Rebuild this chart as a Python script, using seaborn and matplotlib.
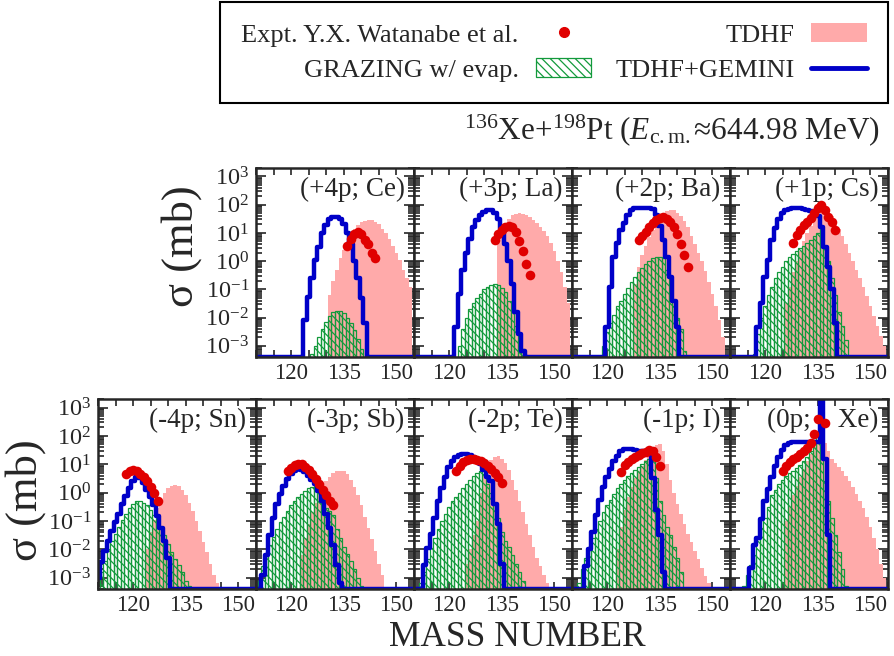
import numpy as np
import matplotlib
matplotlib.use("Agg")
import matplotlib.pyplot as plt
from matplotlib.lines import Line2D
from matplotlib.patches import Patch
from matplotlib.ticker import FixedLocator, LogLocator, NullFormatter
import seaborn as sns

# panels: top row (proton pick-up), bottom row (proton stripping)
top_keys = ["Ce", "La", "Ba", "Cs"]
bot_keys = ["Sn", "Sb", "Te", "I", "Xe"]
panel_text = {"Ce": "(+4p; Ce)", "La": "(+3p; La)", "Ba": "(+2p; Ba)", "Cs": "(+1p; Cs)",
              "Sn": "(-4p; Sn)", "Sb": "(-3p; Sb)", "Te": "(-2p; Te)", "I": "(-1p; I)",
              "Xe": "(0p;    Xe)"}

# all values: log10(sigma / mb); tuple = (first mass number, values)
tdhf = {
    "Ce": (131, [-1.2, -0.7, -0.3, 0.1, 0.4, 0.7, 0.95, 1.15, 1.28, 1.37, 1.42, 1.45, 1.45, 1.4,
                 1.3, 1.15, 1.0, 0.8, 0.55, 0.3, 0.05, -0.3, -0.6, -0.9]),
    "La": (134, [0.75, 1.05, 1.3, 1.5, 1.62, 1.68, 1.7, 1.68, 1.62, 1.55, 1.45, 1.35, 1.22, 1.08,
                 0.9, 0.65, 0.35, 0.0, -0.4, -0.9, -1.5]),
    "Ba": (128, [-0.8, -0.2, 0.2, 0.55, 0.85, 1.1, 1.3, 1.5, 1.65, 1.78, 1.82, 1.8, 1.72, 1.6,
                 1.42, 1.2, 0.9, 0.6, 0.3, 0.0, -0.35, -0.75, -1.15, -1.6, -2.1, -2.7]),
    "Cs": (126, [-1.5, -0.9, -0.4, 0.0, 0.35, 0.7, 1.0, 1.25, 1.45, 1.62, 1.75, 1.8, 1.75, 1.6,
                 1.4, 1.15, 0.9, 0.6, 0.3, 0.0, -0.3, -0.6, -0.9, -1.25, -1.6, -1.95, -2.3, -2.65, -3.0]),
    "Sn": (124, [-2.0, -1.4, -0.95, -0.55, -0.25, 0.0, 0.15, 0.25, 0.28, 0.25, 0.1, -0.1, -0.35,
                 -0.65, -1.0, -1.35, -1.75, -2.1, -2.5, -2.9, -3.2]),
    "Sb": (123, [-2.2, -1.6, -1.1, -0.7, -0.35, -0.05, 0.2, 0.4, 0.55, 0.68, 0.75, 0.78, 0.75, 0.65,
                 0.45, 0.2, -0.1, -0.45, -0.85, -1.25, -1.65, -2.05, -2.5, -2.9]),
    "Te": (125, [-2.5, -2.0, -1.5, -1.0, 0.0, 0.6, 0.95, 1.15, 1.25, 1.28, 1.2, 1.05, 0.8, 0.45,
                 0.1, -0.3, -0.7, -1.1, -1.5, -1.9, -2.3, -2.6, -2.9, -3.2]),
    "I":  (123, [-2.0, -1.2, -0.6, -0.15, 0.2, 0.5, 0.75, 0.95, 1.15, 1.35, 1.55, 1.68, 1.72, 1.45,
                 1.0, 0.45, 0.0, -0.4, -0.75, -1.1, -1.45, -1.75, -2.05, -2.35, -2.65, -2.95, -3.2]),
    "Xe": (126, [-1.0, -0.5, -0.1, 0.25, 0.55, 0.85, 1.1, 1.35, 1.6, 1.85, 2.0, 1.75, 1.45, 1.2,
                 1.05, 0.9, 0.78, 0.6, 0.42, 0.2, -0.05, -0.3, -0.55, -0.85, -1.2, -1.6, -2.0, -2.5, -3.0]),
}

grazing = {
    "Ce": (126, [-3.3, -3.0, -2.7, -2.4, -2.15, -1.95, -1.8, -1.75, -1.75, -1.85, -2.0, -2.2, -2.45,
                 -2.75, -3.1]),
    "La": (123, [-3.0, -2.4, -2.0, -1.7, -1.5, -1.3, -1.15, -1.0, -0.9, -0.85, -0.8, -0.85, -0.95,
                 -1.1, -1.4, -1.8, -2.3, -2.8, -3.1]),
    "Ba": (119, [-3.0, -2.5, -2.2, -1.9, -1.6, -1.4, -1.15, -0.95, -0.75, -0.55, -0.4, -0.25, -0.1,
                 0.0, 0.1, 0.15, 0.15, 0.1, -0.3, -1.1, -1.6, -2.0, -2.4, -3.2]),
    "Cs": (117, [-3.3, -2.6, -2.0, -1.6, -1.2, -0.9, -0.6, -0.4, -0.2, 0.0, 0.15, 0.25, 0.35, 0.45,
                 0.55, 0.65, 0.75, 0.9, 1.0, 1.25, 0.5, 0.0, -0.6, -1.2, -1.8, -2.3, -2.8]),
    "Sn": (110, [-3.2, -2.8, -2.4, -2.0, -1.7, -1.45, -1.2, -0.95, -0.75, -0.55, -0.4, -0.3, -0.3,
                 -0.35, -0.45, -0.6, -0.8, -1.0, -1.25, -1.5, -1.8, -2.1, -2.35, -2.55, -2.8, -3.1, -3.3]),
    "Sb": (111, [-3.1, -2.6, -2.2, -1.85, -1.55, -1.3, -1.05, -0.85, -0.65, -0.45, -0.3, -0.15, -0.05,
                 0.05, 0.15, 0.2, 0.24, 0.1, -0.2, -0.55, -0.65, -0.8, -1.3, -1.6, -1.9, -2.15, -2.4,
                 -2.7, -3.0, -3.3]),
    "Te": (112, [-3.2, -2.8, -2.35, -1.95, -1.6, -1.3, -1.0, -0.75, -0.5, -0.3, -0.15, 0.0, 0.15, 0.3,
                 0.45, 0.6, 0.7, 0.75, 0.65, 0.3, 0.0, -0.4, -0.9, -1.4, -1.7, -1.9, -2.2, -2.5, -2.8, -3.1]),
    "I":  (112, [-3.2, -2.7, -2.3, -1.9, -1.6, -1.3, -1.0, -0.7, -0.45, -0.25, -0.05, 0.15, 0.3, 0.45,
                 0.6, 0.7, 0.8, 0.9, 1.0, 1.1, 1.2, 1.3, 0.5, -0.3, -0.8, -1.2, -1.5, -1.9, -2.3, -2.8]),
    "Xe": (114, [-3.3, -2.9, -2.55, -2.2, -1.6, -1.25, -0.9, -0.5, -0.1, 0.1, 0.3, 0.45, 0.6, 0.7,
                 0.78, 0.88, 0.98, 1.1, 1.25, 1.45, 1.7, 1.95, 2.5, 0.4, -0.3, -0.9, -1.5, -2.1, -2.7, -3.3]),
}

gemini = {
    "Ce": (124, [-2.1, -1.27, -0.6, 0.04, 0.5, 1.0, 1.29, 1.5, 1.58, 1.58, 1.5, 1.3, 1.0, 0.6, 0.0,
                 -0.6, -1.3, -2.2]),
    "La": (122, [-2.35, -1.15, -0.3, 0.3, 0.8, 1.2, 1.45, 1.65, 1.75, 1.8, 1.8, 1.7, 1.5, 1.15, 0.6,
                 0.0, -0.8, -1.8, -2.6, -3.2]),
    "Ba": (120, [-2.35, -0.9, 0.15, 0.63, 1.1, 1.35, 1.64, 1.82, 1.88, 1.9, 1.9, 1.9, 1.88, 1.85,
                 1.64, 1.23, 0.75, 0.15, -0.56, -1.4, -2.35]),
    "Cs": (118, [-2.35, -1.5, -0.56, 0.04, 0.75, 1.17, 1.5, 1.7, 1.82, 1.86, 1.88, 1.88, 1.87, 1.85,
                 1.82, 1.78, 1.72, 1.6, 1.2, 0.5, -0.2, -1.0, -2.2]),
    "Sn": (110, [-3.0, -2.43, -2.07, -1.7, -1.36, -1.05, -0.77, -0.41, -0.11, 0.18, 0.4, 0.56, 0.5,
                 0.35, 0.1, -0.15, -0.45, -0.83, -1.24, -1.7, -2.3]),
    "Sb": (112, [-2.9, -2.2, -1.5, -0.9, -0.4, -0.05, 0.24, 0.48, 0.65, 0.78, 0.82, 0.8, 0.72, 0.6,
                 0.45, 0.3, 0.05, -0.3, -0.75, -1.25, -1.85, -2.55, -3.2]),
    "Te": (113, [-2.55, -1.95, -1.45, -0.9, -0.3, 0.18, 0.55, 0.9, 1.13, 1.25, 1.32, 1.35, 1.35, 1.32,
                 1.25, 1.15, 1.0, 0.8, 0.55, 0.4, -0.4, -1.1, -2.5]),
    "I":  (114, [-2.6, -2.0, -1.4, -0.8, -0.25, 0.2, 0.55, 0.85, 1.1, 1.3, 1.48, 1.55, 1.55, 1.55,
                 1.5, 1.47, 1.45, 1.42, 1.38, 0.5, -0.6, -1.5, -2.8]),
    "Xe": (116, [-2.66, -1.83, -1.6, -0.94, -0.29, 0.12, 0.54, 0.95, 1.25, 1.49, 1.67, 1.75, 1.78,
                 1.78, 1.78, 1.78, 1.78, 1.78, 1.78, 1.78, 3.6, 1.2, -1.5]),
}

expt = {
    "Ce": (136, [0.55, 0.8, 0.95, 1.05, 0.95, 0.75, 0.6, 0.3, 0.1]),
    "La": (133, [0.75, 0.95, 1.1, 1.2, 1.25, 1.22, 1.05, 0.7, 0.35, -0.1, -0.5]),
    "Ba": (129, [0.75, 0.9, 1.05, 1.2, 1.35, 1.45, 1.52, 1.55, 1.5, 1.4, 1.2, 0.95, 0.6, 0.2, -0.2]),
    "Cs": (128, [0.63, 0.93, 1.1, 1.29, 1.4, 1.52, 1.7, 1.88, 2.0, 1.82, 1.58, 1.4, 1.1]),
    "Sn": (118, [0.66, 0.78, 0.8, 0.76, 0.66, 0.55, 0.4, 0.2, 0.0, -0.3]),
    "Sb": (119, [0.78, 0.87, 0.97, 1.02, 1.0, 0.92, 0.8, 0.65, 0.48, 0.3, 0.08, -0.1, -0.28, -0.45]),
    "Te": (122, [0.78, 0.95, 1.08, 1.15, 1.19, 1.19, 1.16, 1.12, 1.05, 0.95, 0.85, 0.7, 0.55, 0.35]),
    "I":  (124, [0.72, 0.98, 1.07, 1.18, 1.26, 1.32, 1.38, 1.43, 1.5, 1.45, 1.25, 0.95]),
    "Xe": (125, [0.78, 0.95, 1.07, 1.18, 1.27, 1.35, 1.45, 1.58, 1.75, 2.05, 2.6, np.nan, 2.45]),
}

PINK = "#ffaaaa"
GREEN = "#139a3c"
BLUE = "#0000c8"
RED = "#e00000"
HATCH = "\\\\\\\\"
YMIN, YMAX = 4e-4, 2e3

sns.set_style("ticks")
plt.rcParams["font.family"] = ["Liberation Serif", "DejaVu Serif"]
plt.rcParams["mathtext.fontset"] = "custom"
plt.rcParams["mathtext.rm"] = "Liberation Serif"
plt.rcParams["mathtext.it"] = "Liberation Serif:italic"
plt.rcParams["mathtext.bf"] = "Liberation Serif:bold"
plt.rcParams["hatch.linewidth"] = 0.9
plt.rcParams["axes.linewidth"] = 1.8

W, H = 894, 656
fig = plt.figure(figsize=(W / 100, H / 100), dpi=100)


def series(d, key):
    a0, v = d[key]
    a = np.arange(a0, a0 + len(v))
    return a, 10.0 ** np.array(v, dtype=float)


def draw_panel(ax, key, first):
    a, s = series(tdhf, key)
    sns.histplot(x=a, weights=s, discrete=True, element="step", fill=True,
                 color=PINK, alpha=1, linewidth=0, ax=ax)
    a, s = series(grazing, key)
    sns.histplot(x=a, weights=s, discrete=True, element="bars", fill=False,
                 color=GREEN, linewidth=0.9, hatch=HATCH, ax=ax)
    # GEMINI line runs along the floor where the cross section is empty
    a, s = series(gemini, key)
    grid = np.arange(108, 158)
    full = np.full(grid.size, YMIN)
    full[a[0] - 108:a[-1] - 108 + 1] = s
    sns.lineplot(x=grid, y=full, drawstyle="steps-mid", color=BLUE, linewidth=3.2,
                 errorbar=None, ax=ax)
    a, s = series(expt, key)
    sns.scatterplot(x=a, y=s, color=RED, s=48, linewidth=0, ax=ax, zorder=5)

    ax.set_yscale("log")
    ax.set_xlim(110, 155)
    ax.set_ylim(YMIN, YMAX)
    ticks = np.arange(110, 156, 5)
    ax.set_xticks(ticks)
    ax.set_xticklabels([str(t) if t in (120, 135, 150) else "" for t in ticks])
    ax.yaxis.set_major_locator(FixedLocator(10.0 ** np.arange(-3, 4)))
    ax.yaxis.set_minor_locator(LogLocator(base=10, subs=np.arange(2, 10), numticks=30))
    ax.yaxis.set_minor_formatter(NullFormatter())
    ax.tick_params(which="both", direction="in", top=True, right=True, width=1.2)
    ax.tick_params(axis="x", labelsize=16.5, pad=4)
    ax.tick_params(axis="y", labelsize=17.5, pad=5)
    ax.tick_params(axis="y", which="major", length=7)
    ax.tick_params(axis="y", which="minor", length=4)
    ax.tick_params(axis="x", which="major", length=5)
    if not first:
        ax.tick_params(axis="y", labelleft=False)
    ax.set_xlabel("")
    ax.set_ylabel("")
    ax.text(0.94, 0.885, panel_text[key], transform=ax.transAxes, ha="right", va="center",
            fontsize=19.5, zorder=6)


for i, key in enumerate(top_keys):
    ax = fig.add_axes([(256 + 158 * i) / W, 1 - 357 / H, 158 / W, 189 / H])
    draw_panel(ax, key, i == 0)
for i, key in enumerate(bot_keys):
    ax = fig.add_axes([(98 + 158 * i) / W, 1 - 589 / H, 158 / W, 190 / H])
    draw_panel(ax, key, i == 0)

fig.text(182 / W, 1 - 246 / H, "σ (mb)", rotation=90, ha="center", va="center", fontsize=32)
fig.text(26 / W, 1 - 500 / H, "σ (mb)", rotation=90, ha="center", va="center", fontsize=32)
fig.text(517 / W, 1 - 638 / H, "MASS NUMBER", ha="center", va="center", fontsize=25.5)
fig.text(880 / W, 1 - 130 / H, r"$^{136}$Xe+$^{198}$Pt ($E_{\mathrm{c.m.}}$≈644.98 MeV)",
         ha="right", va="center", fontsize=22.5)

handles = [
    Line2D([], [], ls="none", marker="o", color=RED, markersize=7),
    Patch(facecolor="none", edgecolor=GREEN, hatch=HATCH, linewidth=0.9),
    Patch(facecolor=PINK, edgecolor="none"),
    Line2D([], [], color=BLUE, linewidth=3.5),
]
labels = ["Expt. Y.X. Watanabe et al.", "GRAZING w/ evap.", "TDHF", "TDHF+GEMINI"]
leg = fig.legend(handles, labels, ncol=2, loc="upper right", bbox_to_anchor=(888 / W, 1 - 2 / H),
                 markerfirst=False, fontsize=19, frameon=True, fancybox=False, framealpha=1,
                 edgecolor="black", borderpad=0.8, labelspacing=0.45, handlelength=2.1,
                 handletextpad=0.65, columnspacing=0.9, borderaxespad=0, numpoints=1)
leg.get_frame().set_linewidth(1.5)

fig.savefig("out.png", dpi=100)
